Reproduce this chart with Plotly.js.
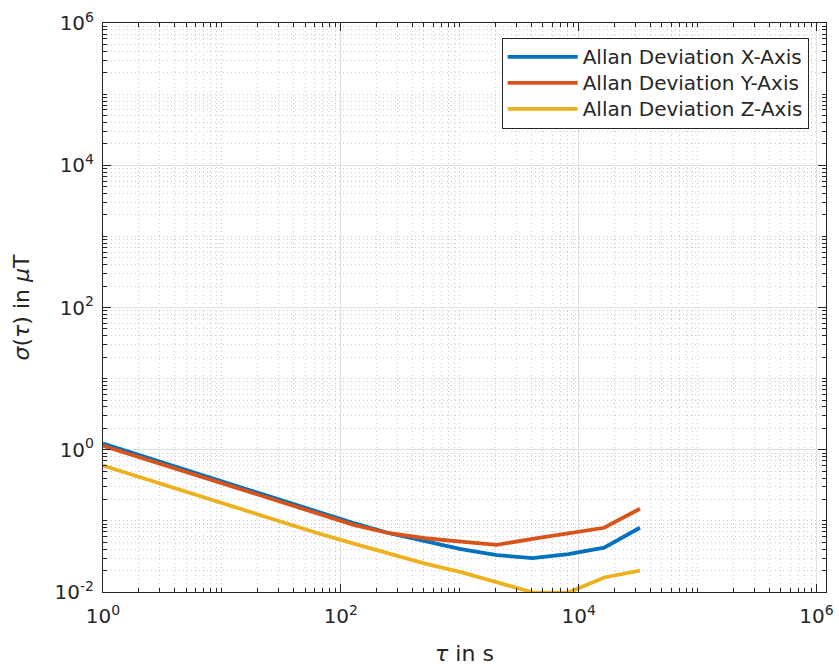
<!DOCTYPE html>
<html>
<head>
<meta charset="utf-8">
<script src="https://cdn.plot.ly/plotly-3.0.1.min.js"></script>
<style>html,body{margin:0;padding:0;background:#fff;}#plot{width:839px;height:668px;}</style>
</head>
<body>
<div id="plot"></div>
<script>
// Averaging times tau (s)
const tau = [1, 2, 4, 8, 16, 32, 64, 128, 256, 512, 1024, 2048, 4096, 8192, 16384, 32768];
// Allan deviation per axis (µT)
const adevX = [1.22, 0.845, 0.585, 0.405, 0.28, 0.194, 0.134, 0.093, 0.067, 0.051, 0.040, 0.033, 0.030, 0.034, 0.042, 0.080];
const adevY = [1.14, 0.79, 0.545, 0.378, 0.262, 0.181, 0.126, 0.088, 0.067, 0.057, 0.051, 0.046, 0.056, 0.066, 0.080, 0.148];
const adevZ = [0.60, 0.415, 0.287, 0.199, 0.138, 0.096, 0.067, 0.048, 0.035, 0.025, 0.019, 0.0138, 0.0099, 0.0098, 0.016, 0.020];
const seriesNames = ['Allan Deviation X-Axis', 'Allan Deviation Y-Axis', 'Allan Deviation Z-Axis'];
const seriesColors = ['#0072BD', '#D95319', '#EDB120'];
// Tick labels
const xTickVals = [1, 100, 10000, 1000000];
const xTickText = ['10<sup>0</sup>', '10<sup>2</sup>', '10<sup>4</sup>', '10<sup>6</sup>'];
const yTickVals = [0.01, 1, 100, 10000, 1000000];
const yTickText = ['10<sup>-2</sup>', '10<sup>0</sup>', '10<sup>2</sup>', '10<sup>4</sup>', '10<sup>6</sup>'];

function minorVals(d0, d1, majors) {
  const out = [];
  for (let d = d0; d < d1; d++) {
    for (let k = 1; k <= 9; k++) {
      const v = k * Math.pow(10, d);
      if (!majors.some(m => Math.abs(m - v) / m < 1e-9)) out.push(v);
    }
  }
  return out;
}

const ys = [adevX, adevY, adevZ];
const traces = ys.map((y, i) => ({
  x: tau, y: y, type: 'scatter', mode: 'lines',
  name: '<span style="font-size:20px">' + seriesNames[i] + '</span>',
  line: {color: seriesColors[i], width: 3.8}
}));

const font = {family: 'DejaVu Sans, sans-serif', color: '#262626'};
const axisCommon = {
  type: 'log', showline: true, linecolor: '#262626', linewidth: 1, mirror: 'allticks',
  ticks: 'inside', ticklen: 8, tickcolor: '#262626', tickwidth: 1,
  showgrid: true, gridcolor: '#e0e0e0', gridwidth: 1, zeroline: false,
  tickfont: Object.assign({size: 20}, font), tickmode: 'array'
};
const minorCommon = {
  tickmode: 'array', ticks: 'inside', ticklen: 4, tickcolor: '#262626',
  showgrid: true, gridcolor: '#cdcdcd', griddash: '1px,3px', gridwidth: 1
};

const layout = {
  width: 839, height: 668,
  margin: {l: 103, r: 13, t: 23, b: 76},
  paper_bgcolor: '#ffffff', plot_bgcolor: '#ffffff',
  font: font,
  showlegend: true,
  legend: {
    x: 0.976, y: 0.974, xanchor: 'right', yanchor: 'top',
    bgcolor: '#ffffff', bordercolor: '#262626', borderwidth: 1,
    font: Object.assign({size: 17.7}, font), tracegroupgap: 0, itemwidth: 70
  },
  xaxis: Object.assign({}, axisCommon, {
    range: [0, 6.08], tickvals: xTickVals, ticktext: xTickText, ticklabelstandoff: 6,
    title: {text: '<i>τ</i> in s', font: Object.assign({size: 22}, font), standoff: 18},
    minor: Object.assign({tickvals: minorVals(0, 7, xTickVals)}, minorCommon)
  }),
  yaxis: Object.assign({}, axisCommon, {
    range: [-2, 6], tickvals: yTickVals, ticktext: yTickText, ticklabelstandoff: 4,
    title: {text: '<i>σ</i>(<i>τ</i>) in <i>μ</i>T', font: Object.assign({size: 22}, font), standoff: 18},
    minor: Object.assign({tickvals: minorVals(-2, 6, yTickVals)}, minorCommon)
  })
};

Plotly.newPlot('plot', traces, layout, {staticPlot: true, displayModeBar: false});
</script>
</body>
</html>
